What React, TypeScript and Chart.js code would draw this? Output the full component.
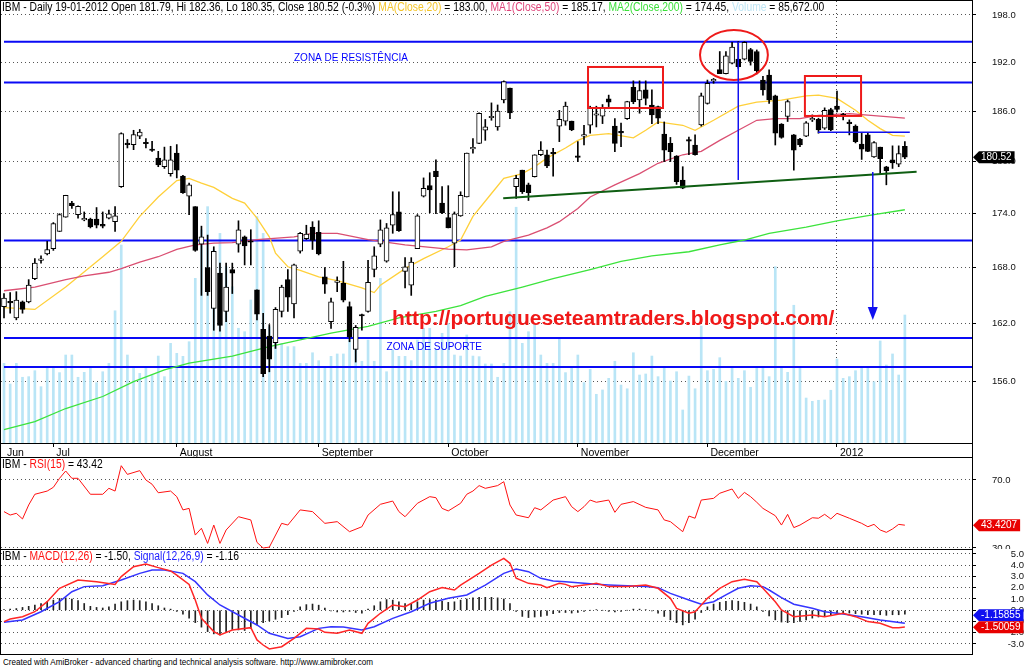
import React, { useEffect, useRef } from 'react';
import { Chart, registerables } from 'chart.js';

Chart.register(...registerables);

const FONT = "'Liberation Sans', Arial, Helvetica, sans-serif";

// ---------------- DATA ----------------
// trading-day index 0 = 21-06-2011 ... 146 = 19-01-2012
const openP = [
  163.8, 164.3, 162.6, 164.3, 164.3, 166.8, 168.8, 169.5, 170.1, 172.0,
  173.6, 175.2, 173.9, 173.3, 173.4, 173.4, 172.8, 173.5, 173.1, 177.1,
  182.1, 182.0, 183.0, 182.2, 181.4, 180.4, 179.4, 178.6, 181.0, 178.3,
  176.0, 174.8, 170.6, 168.0, 163.6, 167.4, 163.3, 167.8, 170.6, 171.4,
  170.9, 165.6, 161.4, 160.7, 160.0, 163.3, 166.7, 164.1, 169.8, 171.2,
  172.5, 171.9, 167.0, 162.2, 166.4, 166.3, 163.8, 159.3, 162.9, 163.3,
  167.8, 170.6, 168.7, 172.7, 174.2, 167.6, 166.1, 170.1, 176.0, 177.2,
  178.9, 175.2, 173.55, 170.7, 173.75, 175.9, 181.5, 182.15, 183.7, 185.2,
  184.1, 187.35, 188.8, 177.1, 179.0, 177.3, 178.25, 180.8, 180.8, 181.0,
  184.2, 184.8, 184.8, 180.6, 183.0, 184.3, 185.5, 185.4, 187.5, 184.2,
  183.5, 185.1, 188.9, 187.35, 188.6, 186.75, 186.55, 183.25, 182.15, 180.65,
  177.85, 182.6, 181.95, 184.35, 186.95, 189.7, 191.1, 190.6, 191.9, 192.4,
  192.4, 193.6, 193.35, 189.8, 190.4, 187.85, 184.45, 185.35, 183.15, 182.65,
  183.0, 184.95, 185.0, 183.95, 186.2, 186.6, 185.5, 184.6, 184.2, 182.05,
  183.15, 180.55, 181.7, 179.4, 180.2, 179.7, 181.79,
];
const highP = [
  165.2, 165.3, 165.4, 164.4, 166.7, 169.0, 169.3, 170.9, 173.0, 174.0,
  176.1, 175.4, 174.9, 174.2, 173.5, 174.7, 174.2, 174.4, 174.8, 183.4,
  182.6, 183.7, 183.8, 182.7, 182.4, 181.2, 181.7, 181.8, 182.0, 178.4,
  177.5, 174.8, 172.6, 171.6, 170.3, 168.5, 168.5, 168.5, 173.2, 171.5,
  172.2, 165.6, 163.1, 161.9, 163.7, 166.1, 167.8, 168.4, 171.9, 172.7,
  173.1, 173.2, 168.0, 164.7, 167.0, 168.7, 164.3, 161.8, 163.0, 168.8,
  170.3, 173.3, 172.9, 176.5, 176.5, 169.1, 169.1, 173.9, 178.1, 178.7,
  180.2, 177.1, 177.2, 174.2, 176.5, 181.0, 182.7, 185.8, 185.0, 187.0,
  186.75, 189.7, 188.8, 178.4, 179.0, 177.5, 180.8, 182.35, 181.35, 181.55,
  186.1, 187.1, 184.8, 182.35, 184.3, 186.6, 186.6, 186.8, 187.95, 185.1,
  184.55, 187.2, 189.7, 189.7, 189.7, 188.6, 186.6, 184.7, 182.85, 180.7,
  179.4, 182.9, 183.15, 188.2, 189.8, 190.0, 193.35, 193.35, 194.5, 194.6,
  194.6, 193.75, 193.55, 190.25, 191.05, 187.95, 184.5, 187.35, 183.2, 182.75,
  184.75, 185.55, 185.15, 186.4, 186.35, 188.45, 185.75, 184.95, 184.35, 183.35,
  183.4, 182.35, 181.7, 179.45, 181.85, 181.85, 182.36,
];
const lowP = [
  162.6, 163.1, 162.4, 163.1, 164.2, 166.7, 168.5, 169.4, 169.9, 172.0,
  173.6, 174.6, 173.5, 173.2, 172.4, 172.4, 172.4, 173.4, 172.0, 177.0,
  181.6, 181.4, 182.7, 181.6, 181.2, 179.4, 179.2, 178.3, 178.1, 176.3,
  173.9, 169.8, 165.0, 165.0, 161.3, 161.2, 162.2, 165.2, 169.7, 168.3,
  168.3, 162.4, 156.5, 157.0, 159.4, 162.7, 163.3, 162.6, 169.6, 171.1,
  170.0, 169.4, 165.2, 161.5, 165.4, 164.3, 160.1, 158.0, 161.3, 163.2,
  167.0, 170.3, 168.6, 171.8, 172.0, 165.8, 165.0, 170.1, 175.9, 174.1,
  174.0, 174.0, 172.4, 168.1, 173.7, 175.9, 181.0, 182.1, 182.5, 184.9,
  183.7, 187.0, 185.1, 175.75, 176.3, 175.5, 178.2, 180.7, 179.3, 178.3,
  182.35, 184.3, 183.65, 180.0, 181.95, 183.35, 184.1, 184.5, 186.55, 181.15,
  181.75, 185.0, 186.9, 185.75, 186.75, 184.5, 184.5, 180.0, 180.0, 177.35,
  176.85, 180.8, 180.75, 184.2, 186.85, 189.4, 190.6, 190.55, 191.8, 191.25,
  192.3, 191.65, 190.55, 187.95, 186.95, 181.95, 182.75, 184.75, 179.0, 181.75,
  182.95, 184.75, 183.35, 183.8, 183.65, 185.9, 184.95, 183.15, 182.2, 180.25,
  181.15, 180.5, 178.5, 177.3, 179.2, 179.4, 180.35,
];
const closeP = [
  164.7, 164.2, 164.5, 163.5, 166.1, 168.5, 168.9, 170.0, 172.9, 173.9,
  176.1, 174.9, 174.85, 173.4, 172.5, 172.7, 172.6, 174.0, 173.75, 183.3,
  182.0, 183.2, 183.5, 182.1, 181.3, 179.6, 180.2, 180.2, 179.0, 176.4,
  177.3, 169.9, 171.4, 165.4, 169.8, 161.8, 165.9, 167.4, 172.2, 170.4,
  170.8, 163.0, 156.8, 158.3, 163.5, 165.9, 164.8, 168.3, 171.8, 171.7,
  171.0, 169.5, 166.2, 164.3, 166.5, 164.5, 160.6, 161.6, 162.8, 166.4,
  169.3, 172.2, 172.4, 173.9, 172.1, 168.1, 168.6, 173.75, 176.9, 176.7,
  178.25, 174.1, 172.4, 174.0, 176.1, 181.0, 181.6, 185.75, 184.1, 185.3,
  186.0, 189.6, 185.8, 178.05, 176.5, 176.4, 180.8, 181.35, 179.5, 180.9,
  185.0, 186.6, 183.75, 180.5, 183.05, 186.4, 185.6, 186.4, 187.1, 182.15,
  183.4, 187.15, 187.15, 188.5, 187.55, 185.55, 185.15, 181.35, 181.15, 177.65,
  176.9, 182.4, 180.8, 187.85, 189.4, 189.8, 190.6, 192.8, 193.9, 191.45,
  194.5, 192.1, 190.95, 188.6, 187.35, 183.35, 182.85, 187.15, 181.35, 181.95,
  184.6, 185.0, 183.75, 186.1, 183.75, 186.2, 185.45, 184.5, 182.35, 181.45,
  181.2, 182.25, 180.35, 178.95, 179.85, 180.95, 180.52,
];
const volumes = [
  53300, 39500, 53300, 44000, 44400, 48400, 37700, 51100, 51100, 47100,
  58900, 58900, 44000, 47300, 51100, 40400, 47700, 53300, 88500, 132500,
  58900, 51100, 46600, 50000, 45500, 58200, 44400, 66700, 60000, 58000,
  67800, 110200, 142600, 158200, 129200, 140300, 118000, 104600, 76800, 74500,
  95700, 151500, 140300, 77800, 71100, 66700, 64500, 64500, 53300, 53300,
  60400, 55100, 50000, 58000, 59600, 59600, 71100, 66700, 54700, 68900,
  54700, 110200, 47700, 62200, 58000, 58000, 55100, 68900, 76800, 76800,
  62400, 73400, 80100, 58900, 58200, 72300, 58200, 57800, 52900, 52900,
  44000, 53300, 87900, 157800, 66700, 74500, 79600, 58900, 53300, 53300,
  69400, 47100, 51100, 58900, 40400, 49300, 32600, 35500, 43300, 54700,
  38800, 36300, 60400, 45500, 46200, 58200, 44400, 50400, 41500, 47700,
  22100, 44800, 36300, 78300, 48400, 49300, 57100, 41300, 51100, 43300,
  48400, 37300, 50000, 50000, 44400, 118000, 50000, 47300, 92200, 50000,
  30100, 27900, 28600, 28800, 35300, 56200, 43300, 44400, 48400, 51100,
  50000, 41000, 68300, 52200, 59600, 45500, 85672,
];
// moving averages read at sample points: [bar index, value]
const ma20Pts = [
  [0, 163.7], [5, 163.5], [10, 165.9], [16, 169.2], [19, 170.9], [22, 173.7], [25, 175.9], [28, 177.8],
  [30, 178.05], [32, 177.5], [34, 177.0], [37, 175.75], [39, 175.2], [41, 173.5], [43, 171.4], [44, 169.6],
  [46, 168.1], [48, 167.7], [51, 167.0], [54, 166.6], [58, 165.8], [60, 165.3], [61, 166.1], [65, 167.9],
  [68, 169.0], [72, 170.3], [74, 171.05], [76, 173.7], [79, 176.3], [81, 178.05], [84, 178.6], [86, 179.4],
  [88, 180.4], [91, 181.6], [93, 182.5], [95, 183.1], [98, 183.3], [102, 182.8], [104, 183.7], [106, 184.7],
  [110, 184.3], [112, 183.7], [115, 184.9], [119, 186.6], [122, 187.1], [126, 187.35], [130, 187.85],
  [132, 187.95], [135, 187.55], [138, 186.1], [140, 184.9], [142, 183.9], [144, 183.1], [146, 183.0],
];
const ma50Pts = [
  [0, 165.5], [5, 165.9], [10, 166.7], [13, 167.1], [17, 167.5], [19, 167.9], [22, 168.6], [25, 169.2],
  [28, 170.0], [31, 170.5], [34, 170.7], [37, 170.75], [41, 171.1], [47, 171.4], [50, 171.8], [54, 171.8],
  [59, 171.1], [65, 170.5], [72, 170.05], [75, 169.95], [79, 170.3], [81, 170.9], [85, 171.6], [88, 172.4],
  [90, 173.1], [93, 174.6], [95, 175.9], [99, 177.3], [103, 178.6], [106, 179.8], [110, 180.8], [113, 181.2],
  [116, 182.5], [119, 183.7], [122, 184.9], [125, 185.1], [129, 185.1], [132, 185.5], [137, 185.7],
  [142, 185.4], [146, 185.17],
];
const ma200Pts = [
  [0, 151.2], [5, 152.0], [10, 153.3], [16, 154.5], [21, 156.0], [26, 157.2], [30, 157.9], [37, 158.6],
  [43, 159.6], [48, 160.3], [53, 161.0], [59, 161.7], [64, 162.6], [70, 163.3], [74, 163.9], [78, 164.9],
  [84, 165.9], [89, 166.8], [95, 167.8], [100, 168.7], [105, 169.3], [111, 169.75], [116, 170.5],
  [120, 171.05], [124, 171.8], [130, 172.5], [135, 173.2], [141, 173.9], [146, 174.45],
];
const rsiPts = [
  [0, 51.4], [1, 49.4], [2, 50.4], [3, 47.1], [4, 55.3], [5, 61.6], [7, 63.5], [8, 65.7], [9, 71.0], [10, 75.3],
  [11, 71.0], [12, 71.0], [14, 61.6], [16, 61.6], [17, 65.1], [18, 63.5], [19, 78.4], [20, 73.3], [22, 75.5],
  [23, 70.0], [24, 67.5], [25, 62.5], [27, 63.5], [28, 60.2], [29, 52.4], [30, 53.3], [31, 37.6], [32, 41.6],
  [33, 32.7], [34, 43.5], [35, 32.7], [36, 40.6], [38, 48.4], [40, 46.5], [41, 33.3], [42, 30.0], [43, 30.5],
  [45, 44.5], [46, 43.5], [48, 52.4], [50, 51.4], [52, 44.5], [54, 45.5], [56, 39.6], [58, 42.5], [59, 49.4],
  [61, 55.7], [63, 57.6], [64, 51.4], [65, 48.4], [67, 56.3], [69, 60.2], [70, 59.6], [71, 53.3], [72, 51.8],
  [74, 56.3], [75, 61.6], [76, 63.5], [77, 66.7], [78, 65.1], [80, 66.7], [81, 69.0], [82, 55.3], [83, 49.4],
  [85, 47.8], [86, 53.7], [87, 52.4], [88, 55.3], [89, 58.2], [91, 60.2], [92, 54.3], [93, 51.4], [94, 54.3],
  [95, 58.2], [96, 56.9], [98, 58.2], [99, 51.0], [100, 55.7], [102, 57.3], [104, 53.9], [106, 52.4],
  [107, 46.5], [108, 45.5], [110, 39.6], [111, 48.8], [112, 47.5], [113, 58.2], [115, 59.2], [116, 62.2],
  [118, 64.7], [119, 59.2], [120, 62.7], [121, 60.2], [122, 56.9], [123, 53.3], [125, 49.0], [126, 43.5],
  [127, 49.8], [128, 42.0], [129, 43.5], [131, 47.8], [132, 47.5], [133, 49.8], [134, 47.1], [135, 50.4],
  [137, 47.5], [139, 44.5], [140, 42.5], [141, 43.9], [142, 40.6], [143, 39.2], [144, 41.2], [145, 43.9],
  [146, 43.42],
];
const macdPts = [
  [0, -1.01], [1, -0.78], [3, -0.57], [5, -0.13], [7, 0.76], [9, 1.95], [12, 2.69], [15, 2.54], [18, 2.30],
  [19, 2.99], [21, 3.87], [23, 4.11], [25, 3.79], [27, 3.49], [28, 3.13], [30, 2.30], [31, 0.91], [32, -0.72],
  [34, -1.90], [35, -2.20], [37, -1.76], [40, -1.55], [41, -2.64], [42, -3.09], [43, -3.44], [45, -3.24],
  [47, -2.50], [49, -1.61], [51, -1.67], [52, -1.96], [54, -2.05], [56, -1.76], [58, -2.05], [59, -1.16],
  [61, -0.27], [63, 0.47], [65, 0.32], [67, 0.91], [69, 1.65], [71, 2.01], [73, 1.80], [74, 2.24], [77, 3.28],
  [79, 4.02], [81, 4.61], [82, 4.17], [83, 2.84], [85, 2.39], [87, 2.24], [88, 2.01], [90, 2.39], [91, 2.30],
  [92, 2.10], [94, 2.24], [95, 2.30], [96, 2.39], [98, 2.10], [101, 2.10], [104, 2.24], [106, 1.95],
  [108, 1.06], [109, 0.17], [111, -0.27], [112, -0.13], [114, 1.06], [116, 1.95], [118, 2.54], [120, 2.75],
  [122, 2.54], [123, 1.95], [125, 0.76], [126, 0.02], [128, -0.57], [131, -0.42], [133, -0.57], [136, -0.27],
  [138, -0.57], [140, -1.01], [142, -1.16], [144, -1.55], [145, -1.55], [146, -1.50],
];
const signalPts = [
  [0, -1.07], [3, -0.87], [6, -0.13], [9, 0.76], [11, 1.65], [13, 2.10], [16, 2.18], [19, 2.69], [22, 3.28],
  [24, 3.58], [26, 3.58], [29, 3.28], [31, 2.54], [33, 1.36], [35, 0.47], [38, -0.42], [41, -1.31], [43, -2.05],
  [46, -2.50], [48, -2.35], [51, -1.61], [53, -1.46], [55, -1.49], [58, -1.76], [60, -1.46], [63, -0.72],
  [66, -0.13], [69, 0.62], [72, 1.06], [75, 1.36], [78, 2.24], [81, 3.28], [83, 3.67], [85, 3.43], [87, 2.84],
  [89, 2.60], [91, 2.54], [94, 2.39], [96, 2.30], [98, 2.24], [101, 2.18], [104, 2.10], [106, 2.01],
  [108, 1.50], [111, 0.91], [113, 0.53], [115, 0.76], [117, 1.36], [119, 1.95], [121, 2.18], [123, 2.10],
  [124, 1.80], [126, 1.12], [128, 0.53], [131, 0.17], [133, -0.13], [136, -0.33], [139, -0.57], [142, -0.87],
  [146, -1.16],
];
const macdHist = [
  0.05, 0.1, 0.15, 0.25, 0.35, 0.45, 0.6, 0.75, 0.9, 1.05,
  1.1, 1.0, 0.85, 0.6, 0.35, 0.25, 0.2, 0.3, 0.55, 0.75,
  0.85, 0.9, 0.85, 0.75, 0.6, 0.4, 0.2, 0.1, -0.1, -0.35,
  -0.7, -1.1, -1.5, -1.9, -2.1, -2.2, -1.9, -1.7, -1.75, -1.8,
  -1.6, -1.3, -1.1, -0.95, -0.8, -0.65, -0.4, -0.1, 0.3, 0.5,
  0.55, 0.45, 0.2, -0.05, -0.15, -0.15, -0.1, -0.2, -0.25, 0.1,
  0.4, 0.75, 0.95, 0.9, 0.75, 0.6, 0.6, 0.75, 0.9, 0.95,
  0.9, 0.8, 0.7, 0.75, 0.9, 1.0, 1.1, 1.15, 1.15, 1.15,
  1.1, 1.0, 0.6, -0.1, -0.55, -0.65, -0.6, -0.55, -0.45, -0.3,
  -0.2, -0.2, -0.25, -0.2, -0.1, 0.0, 0.05, 0.0, -0.1, -0.15,
  -0.1, 0.0, 0.1, 0.1, 0.05, -0.05, -0.25, -0.55, -0.85, -1.1,
  -1.3, -1.1, -0.8, -0.2, 0.3, 0.55, 0.7, 0.8, 0.85, 0.8,
  0.7, 0.55, 0.3, -0.1, -0.5, -0.85, -1.05, -1.1, -1.1, -1.0,
  -0.85, -0.7, -0.6, -0.5, -0.4, -0.3, -0.25, -0.25, -0.3, -0.35,
  -0.4, -0.4, -0.4, -0.45, -0.4, -0.4, -0.34,
];
const lastClose = 180.52;
const lastRsi = 43.4207;
const lastMacd = -1.50059;
const lastSignal = -1.15855;

// axis ticks / labels
const monthStarts = [0, 8, 28, 51, 72, 93, 114, 135];
const monthNames = ['Jun', 'Jul', 'August', 'September', 'October', 'November', 'December', '2012'];
const priceTicks = [156, 162, 168, 174, 180, 186, 192, 198];
const rsiTicks = [30, 70];
const macdTicks = [-3, -2, -1, 0, 1, 2, 3, 4, 5];

// drawn annotations (in bar-index / price units)
const zoneLevels = [194.6, 189.5, 171.0, 160.5, 157.5];
const redBoxes = [[94.65, 106.8, 191.42, 186.38], [129.8, 138.9, 190.3, 185.42]];
const topEllipse = [112.8, 123.8, 196.08, 189.81];
const topMarker = [119.0, 194.56, 177.86];
const neckline = [131.9, 146.8, 183.46];
const targetArrow = [140.8, 178.79, 162.38];
const trendLine = [[80.9, 175.76], [147.9, 178.82]];
const zoneTexts = [
  { text: 'ZONA DE RESISTÊNCIA', i: 47.0, p: 192.54 },
  { text: 'ZONA DE SUPORTE', i: 62.0, p: 159.5 },
];
const blogUrl = { text: 'http://portugueseteamtraders.blogspot.com/', i: 62.9, p: 161.86 };

// ---------------- STYLE ----------------
const X_MIN = -0.486;
const X_MAX = 156.88;
const AXIS_W = 52;
const C_MA20 = '#FFD03A';
const C_MA50 = '#DA4F72';
const C_MA200 = '#3CE33C';
const C_VOL = '#B9E5F6';
const YEAR_IDX = monthStarts[monthNames.indexOf('2012')];

function makeFrame(lines: number[][]) {
  return {
    id: 'frame',
    afterDraw(chart: any) {
      const ctx = chart.ctx;
      ctx.save();
      ctx.strokeStyle = '#000';
      ctx.lineWidth = 1;
      ctx.setLineDash([]);
      for (const [x1, y1, x2, y2] of lines) {
        ctx.beginPath();
        ctx.moveTo(x1, y1);
        ctx.lineTo(x2, y2);
        ctx.stroke();
      }
      ctx.restore();
    },
  };
}

function makeTags(items: { value: number; text: string; bg: string; fg: string }[]) {
  return {
    id: 'tags',
    afterDraw(chart: any) {
      const ctx = chart.ctx;
      const ys = chart.scales.y;
      const left = chart.chartArea.right;
      const H = 12;
      const list = items.map((it) => ({ it, py: ys.getPixelForValue(it.value) }));
      list.sort((a, b) => a.py - b.py);
      for (let k = list.length - 2; k >= 0; k--) {
        if (list[k + 1].py - list[k].py < H) list[k].py = list[k + 1].py - H;
      }
      ctx.save();
      ctx.font = `10px ${FONT}`;
      ctx.textBaseline = 'middle';
      ctx.textAlign = 'left';
      for (const { it, py } of list) {
        const w = ctx.measureText(it.text).width;
        const tip = left + 1;
        const bx = left + 7;
        const right = Math.min(chart.width, bx + w + 5);
        ctx.fillStyle = it.bg;
        ctx.beginPath();
        ctx.moveTo(tip, py);
        ctx.lineTo(bx, py - H / 2);
        ctx.lineTo(right, py - H / 2);
        ctx.lineTo(right, py + H / 2);
        ctx.lineTo(bx, py + H / 2);
        ctx.closePath();
        ctx.fill();
        ctx.fillStyle = it.fg;
        ctx.fillText(it.text, bx + 2, py + 0.5);
      }
      ctx.restore();
    },
  };
}

const annotationPlugin = {
  id: 'annotations',
  afterDatasetsDraw(chart: any) {
    const { ctx, chartArea: a } = chart;
    const X = (i: number) => chart.scales.x.getPixelForValue(i);
    const Y = (p: number) => chart.scales.y.getPixelForValue(p);
    ctx.save();
    ctx.beginPath();
    ctx.rect(a.left, a.top, a.right - a.left, a.bottom - a.top);
    ctx.clip();
    ctx.setLineDash([]);
    // support trend line
    ctx.strokeStyle = '#0F5E12';
    ctx.lineWidth = 2;
    ctx.beginPath();
    ctx.moveTo(X(trendLine[0][0]), Y(trendLine[0][1]));
    ctx.lineTo(X(trendLine[1][0]), Y(trendLine[1][1]));
    ctx.stroke();
    // red boxes
    ctx.strokeStyle = '#EE1A1A';
    ctx.lineWidth = 2;
    for (const [i0, i1, pHi, pLo] of redBoxes) {
      const x1 = X(i0), x2 = X(i1), y1 = Y(pHi), y2 = Y(pLo);
      ctx.strokeRect(x1, y1, x2 - x1, y2 - y1);
    }
    // ellipse round the top
    {
      const x1 = X(topEllipse[0]), x2 = X(topEllipse[1]);
      const y1 = Y(topEllipse[2]), y2 = Y(topEllipse[3]);
      ctx.beginPath();
      ctx.ellipse((x1 + x2) / 2, (y1 + y2) / 2, (x2 - x1) / 2, (y2 - y1) / 2, 0, 0, Math.PI * 2);
      ctx.stroke();
    }
    // blue marker lines
    ctx.strokeStyle = '#1010F0';
    ctx.lineWidth = 1.5;
    ctx.beginPath();
    ctx.moveTo(X(topMarker[0]), Y(topMarker[1]));
    ctx.lineTo(X(topMarker[0]), Y(topMarker[2]));
    ctx.stroke();
    ctx.beginPath();
    ctx.moveTo(X(neckline[0]), Y(neckline[2]));
    ctx.lineTo(X(neckline[1]), Y(neckline[2]));
    ctx.stroke();
    {
      const ax = X(targetArrow[0]);
      const yTop = Y(targetArrow[1]);
      const yTip = Y(targetArrow[2]);
      ctx.beginPath();
      ctx.moveTo(ax, yTop);
      ctx.lineTo(ax, yTip - 8);
      ctx.stroke();
      ctx.fillStyle = '#1010F0';
      ctx.beginPath();
      ctx.moveTo(ax - 5, yTip - 13);
      ctx.lineTo(ax + 5, yTip - 13);
      ctx.lineTo(ax, yTip);
      ctx.closePath();
      ctx.fill();
    }
    // texts
    ctx.fillStyle = '#0000FF';
    ctx.font = `10px ${FONT}`;
    ctx.textBaseline = 'middle';
    ctx.textAlign = 'left';
    for (const t of zoneTexts) ctx.fillText(t.text, X(t.i), Y(t.p));
    ctx.fillStyle = '#F01818';
    ctx.font = `bold 21px ${FONT}`;
    ctx.textBaseline = 'alphabetic';
    ctx.fillText(blogUrl.text, X(blogUrl.i), Y(blogUrl.p));
    ctx.restore();
  },
};

const pts = (arr: number[][]) => arr.map(([x, y]) => ({ x, y }));

const noPad = (s: any) => {
  s.paddingTop = 0;
  s.paddingBottom = 0;
  s.paddingLeft = 0;
  s.paddingRight = 0;
};

function rightAxis(min: number, max: number, ticks: number[], type: string, far = false) {
  return {
    type,
    position: 'right',
    min,
    max,
    afterFit: (s: any) => { s.width = AXIS_W; noPad(s); },
    afterBuildTicks: (s: any) => { s.ticks = ticks.map((v) => ({ value: v })); },
    ticks: {
      autoSkip: false,
      padding: far ? 25 : 16,
      crossAlign: far ? 'far' : 'near',
      color: '#111',
      font: { size: 9.5, family: FONT },
      callback: (v: any) => Number(v).toFixed(1),
    },
    grid: { color: '#555', lineWidth: 1, tickColor: '#000', tickLength: 4, drawTicks: true },
    border: { display: false, dash: [1, 3] },
  };
}

const hiddenX = { type: 'linear', min: X_MIN, max: X_MAX, display: false, offset: false, grid: { offset: false } };

export default function App() {
  const mainRef = useRef<HTMLCanvasElement>(null);
  const rsiRef = useRef<HTMLCanvasElement>(null);
  const macdRef = useRef<HTMLCanvasElement>(null);

  useEffect(() => {
    Chart.defaults.font.family = FONT;
    const charts: any[] = [];
    const idx = closeP.map((_, i) => i);
    const bodyColors = closeP.map((c, i) => (c >= openP[i] ? '#FFFFFF' : '#000000'));

    const mainDatasets: any[] = [
      {
        type: 'bar', label: 'Volume', yAxisID: 'vol', order: 10, grouped: false,
        data: idx.map((i) => ({ x: i, y: volumes[i] })),
        backgroundColor: C_VOL, barThickness: 2, borderWidth: 0,
      },
      ...zoneLevels.map((lvl) => ({
        type: 'line', label: 'zone', yAxisID: 'y', order: 8,
        data: [{ x: 0, y: lvl }, { x: X_MAX, y: lvl }],
        borderColor: '#0A0AF5', borderWidth: 2, pointRadius: 0, tension: 0,
      })),
      { type: 'line', label: 'MA200', yAxisID: 'y', order: 6, data: pts(ma200Pts), borderColor: C_MA200, borderWidth: 1.3, pointRadius: 0 },
      { type: 'line', label: 'MA50', yAxisID: 'y', order: 6, data: pts(ma50Pts), borderColor: C_MA50, borderWidth: 1.3, pointRadius: 0 },
      { type: 'line', label: 'MA20', yAxisID: 'y', order: 6, data: pts(ma20Pts), borderColor: C_MA20, borderWidth: 1.3, pointRadius: 0 },
      {
        type: 'bar', label: 'wick', yAxisID: 'y', order: 3, grouped: false,
        data: idx.map((i) => ({ x: i, y: [lowP[i], highP[i]] })),
        backgroundColor: '#000', barThickness: 1, borderWidth: 0,
      },
      {
        type: 'bar', label: 'body', yAxisID: 'y', order: 2, grouped: false,
        data: idx.map((i) => ({ x: i, y: [Math.min(openP[i], closeP[i]), Math.max(openP[i], closeP[i])] })),
        backgroundColor: bodyColors, borderColor: '#000', borderWidth: 1, borderSkipped: false,
        barThickness: 5, minBarLength: 1.5,
      },
    ];

    charts.push(new Chart(mainRef.current as any, {
      type: 'bar',
      data: { datasets: mainDatasets },
      options: {
        responsive: false, maintainAspectRatio: false, animation: false, events: [],
        layout: { padding: { left: 1, top: 1, right: 0, bottom: 0 } },
        plugins: { legend: { display: false }, tooltip: { enabled: false } },
        scales: {
          x: {
            type: 'linear', position: 'bottom', min: X_MIN, max: X_MAX, offset: false,
            afterFit: (s: any) => { s.height = 15; noPad(s); },
            afterBuildTicks: (s: any) => { s.ticks = monthStarts.map((v) => ({ value: v })); },
            ticks: {
              autoSkip: false, maxRotation: 0, minRotation: 0, align: 'start', labelOffset: 3, padding: 0,
              color: '#000', font: { size: 10.5, family: FONT },
              callback: (_v: any, k: number) => monthNames[k],
            },
            grid: {
              offset: false, drawOnChartArea: true, tickLength: 4, lineWidth: 1,
              color: (c: any) => (c.tick && c.tick.value === YEAR_IDX ? '#444' : 'rgba(0,0,0,0)'),
              tickColor: (c: any) => (c.index === 0 ? 'rgba(0,0,0,0)' : '#000'),
            },
            border: { display: false, dash: [1, 3] },
          },
          y: rightAxis(149.9, 199.81, priceTicks, 'logarithmic'),
          vol: { type: 'linear', display: false, min: 0, max: 295830 },
        },
      } as any,
      plugins: [
        annotationPlugin,
        makeFrame([[0.5, 0, 0.5, 458], [0, 0.5, 972, 0.5], [972.5, 0, 972.5, 458], [0, 443.5, 972, 443.5], [0, 457.5, 972, 457.5]]),
        makeTags([{ value: lastClose, text: lastClose.toFixed(2), bg: '#000', fg: '#fff' }]),
      ],
    } as any));

    charts.push(new Chart(rsiRef.current as any, {
      type: 'line',
      data: {
        datasets: [{ label: 'RSI', data: pts(rsiPts), borderColor: '#FF1010', borderWidth: 1, pointRadius: 0 }],
      },
      options: {
        responsive: false, maintainAspectRatio: false, animation: false, events: [],
        layout: { padding: { left: 1, top: 0, right: 0, bottom: 0 } },
        plugins: { legend: { display: false }, tooltip: { enabled: false } },
        scales: { x: hiddenX, y: rightAxis(29.41, 82.94, rsiTicks, 'linear') },
      } as any,
      plugins: [
        makeFrame([[0.5, 0, 0.5, 91], [972.5, 0, 972.5, 91]]),
        makeTags([{ value: lastRsi, text: lastRsi.toFixed(4), bg: '#E80000', fg: '#fff' }]),
      ],
    } as any));

    charts.push(new Chart(macdRef.current as any, {
      type: 'bar',
      data: {
        datasets: [
          {
            type: 'bar', label: 'hist', order: 3, grouped: false,
            data: idx.map((i) => ({ x: i, y: macdHist[i] })),
            backgroundColor: '#222', barThickness: 1, borderWidth: 0,
          },
          { type: 'line', label: 'Signal', order: 2, data: pts(signalPts), borderColor: '#3535FF', borderWidth: 1.5, pointRadius: 0 },
          { type: 'line', label: 'MACD', order: 1, data: pts(macdPts), borderColor: '#FF2626', borderWidth: 1.5, pointRadius: 0 },
        ],
      },
      options: {
        responsive: false, maintainAspectRatio: false, animation: false, events: [],
        layout: { padding: { left: 1, top: 0, right: 0, bottom: 0 } },
        plugins: { legend: { display: false }, tooltip: { enabled: false } },
        scales: { x: hiddenX, y: rightAxis(-3.978, 5.444, macdTicks, 'linear', true) },
      } as any,
      plugins: [
        makeFrame([[0.5, 0, 0.5, 106], [972.5, 0, 972.5, 106], [0, 0.5, 972, 0.5], [0, 105.5, 972, 105.5]]),
        makeTags([
          { value: lastSignal, text: lastSignal.toFixed(5), bg: '#1010F0', fg: '#fff' },
          { value: lastMacd, text: lastMacd.toFixed(5), bg: '#E80000', fg: '#fff' },
        ]),
      ],
    } as any));

    return () => { charts.forEach((c) => c.destroy()); };
  }, []);

  const title: React.CSSProperties = {
    position: 'absolute', whiteSpace: 'nowrap', fontFamily: FONT, fontSize: 12, lineHeight: '13px',
    background: '#fff', color: '#000', transform: 'scaleX(0.86)', transformOrigin: '0 0', zIndex: 2,
  };

  return (
    <div style={{ position: 'fixed', left: 0, top: 0, width: 1024, height: 667, background: '#fff', overflow: 'hidden' }}>
      <canvas ref={mainRef} width={1024} height={458} style={{ position: 'absolute', left: 0, top: 0 }} />
      <canvas ref={rsiRef} width={1024} height={91} style={{ position: 'absolute', left: 0, top: 458 }} />
      <canvas ref={macdRef} width={1024} height={106} style={{ position: 'absolute', left: 0, top: 549 }} />
      <div style={{ ...title, left: 2, top: 1 }}>
        IBM - Daily 19-01-2012 Open 181.79, Hi 182.36, Lo 180.35, Close 180.52 (-0.3%){' '}
        <span style={{ color: '#F5C52A' }}>MA(Close,20)</span> = 183.00,{' '}
        <span style={{ color: '#E0457A' }}>MA1(Close,50)</span> = 185.17,{' '}
        <span style={{ color: '#3BE03B' }}>MA2(Close,200)</span> = 174.45,{' '}
        <span style={{ color: '#BFE6F5' }}>Volume</span> = 85,672.00
      </div>
      <div style={{ ...title, left: 2, top: 458 }}>
        IBM - <span style={{ color: '#FF1010' }}>RSI(15)</span> = 43.42
      </div>
      <div style={{ ...title, left: 2, top: 550 }}>
        IBM - <span style={{ color: '#FF1010' }}>MACD(12,26)</span> = -1.50,{' '}
        <span style={{ color: '#2020FF' }}>Signal(12,26,9)</span> = -1.16
      </div>
      <div style={{ ...title, left: 3, top: 657, fontSize: 9, lineHeight: '10px', transform: 'scaleX(0.9)' }}>
        Created with AmiBroker - advanced charting and technical analysis software. http://www.amibroker.com
      </div>
    </div>
  );
}
